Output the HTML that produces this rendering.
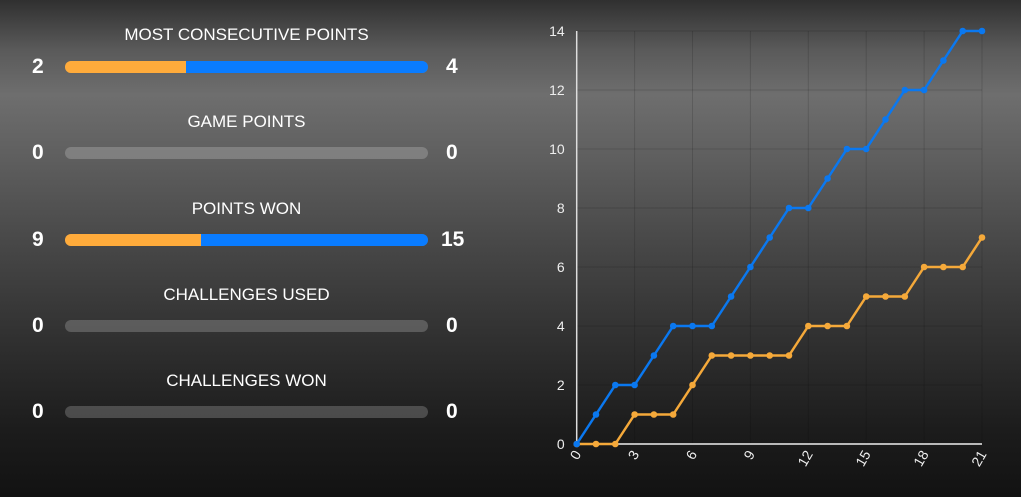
<!DOCTYPE html>
<html><head><style>
html,body{margin:0;padding:0}
body{width:1021px;height:497px;overflow:hidden;position:relative;font-family:"Liberation Sans",Arial,sans-serif;
background:linear-gradient(to bottom,#303030 0px,#5a5a5a 50px,#6e6e6e 95px,#5e5e5e 160px,#464646 250px,#303030 340px,#1c1c1c 430px,#121212 497px);}
.t{position:absolute;left:45px;width:403px;text-align:center;color:#fff;font-size:17px}
.n{position:absolute;color:#fff;font-weight:bold;font-size:21px;line-height:24px}
.bar{position:absolute;left:65px;width:363px;height:12px;border-radius:6px;overflow:hidden;background:rgba(255,255,255,0.2)}
.o{position:absolute;left:0;top:0;height:12px;background:#ffab3b}
.b{position:absolute;top:0;right:0;height:12px;background:#0a7cff}
</style></head><body>
<div class="t" style="top:25px">MOST CONSECUTIVE POINTS</div>
<div class="n" style="left:32px;top:55px">2</div><div class="n" style="left:446px;top:55px">4</div>
<div class="bar" style="top:61px"><div class="o" style="width:121px"></div><div class="b" style="left:121px"></div></div>

<div class="t" style="top:112px">GAME POINTS</div>
<div class="n" style="left:32px;top:141px">0</div><div class="n" style="left:446px;top:141px">0</div>
<div class="bar" style="top:147px"></div>

<div class="t" style="top:199px">POINTS WON</div>
<div class="n" style="left:32px;top:228px">9</div><div class="n" style="left:441px;top:228px">15</div>
<div class="bar" style="top:234px"><div class="o" style="width:136px"></div><div class="b" style="left:136px"></div></div>

<div class="t" style="top:285px">CHALLENGES USED</div>
<div class="n" style="left:32px;top:314px">0</div><div class="n" style="left:446px;top:314px">0</div>
<div class="bar" style="top:320px"></div>

<div class="t" style="top:371px">CHALLENGES WON</div>
<div class="n" style="left:32px;top:400px">0</div><div class="n" style="left:446px;top:400px">0</div>
<div class="bar" style="top:406px"></div>

<svg id="c" width="1021" height="497" style="position:absolute;left:0;top:0" xmlns="http://www.w3.org/2000/svg"></svg>
<script>
var s=document.getElementById('c'),h='';
var x0=576.7,dx=19.3,y0=444,dy=29.5;
function X(i){return x0+i*dx}function Y(v){return y0-v*dy}
for(var v=0;v<=14;v+=2){h+='<line x1="'+x0+'" x2="'+X(21)+'" y1="'+Y(v)+'" y2="'+Y(v)+'" stroke="rgba(0,0,0,0.14)" stroke-width="1"/>';
h+='<text x="'+(x0-12)+'" y="'+(Y(v)+5)+'" fill="#eee" font-size="14" text-anchor="end" font-family="Liberation Sans,sans-serif">'+v+'</text>';}
for(var i=0;i<=21;i+=3){h+='<line x1="'+X(i)+'" x2="'+X(i)+'" y1="'+Y(14)+'" y2="'+y0+'" stroke="rgba(0,0,0,0.14)" stroke-width="1"/>';
h+='<text transform="translate('+(X(i)+5)+','+(y0+10)+') rotate(-60)" fill="#eee" font-size="14" text-anchor="end" font-family="Liberation Sans,sans-serif">'+i+'</text>';}
h+='<line x1="'+x0+'" x2="'+x0+'" y1="'+Y(14)+'" y2="'+y0+'" stroke="#ddd" stroke-width="1.5"/>';
h+='<line x1="'+x0+'" x2="'+X(21)+'" y1="'+y0+'" y2="'+y0+'" stroke="#eee" stroke-width="1.5"/>';
var B=[0,1,2,2,3,4,4,4,5,6,7,8,8,9,10,10,11,12,12,13,14,14],O=[0,0,0,1,1,1,2,3,3,3,3,3,4,4,4,5,5,5,6,6,6,7];
function line(d,c){var p=d.map(function(v,i){return X(i)+','+Y(v)}).join(' ');
var r='<polyline points="'+p+'" fill="none" stroke="'+c+'" stroke-width="2.5" stroke-linejoin="round"/>';
d.forEach(function(v,i){r+='<circle cx="'+X(i)+'" cy="'+Y(v)+'" r="3.3" fill="'+c+'"/>'});return r;}
h+=line(O,'#f5a93a')+line(B,'#0a78f0');
s.innerHTML=h;
</script>
</body></html>
